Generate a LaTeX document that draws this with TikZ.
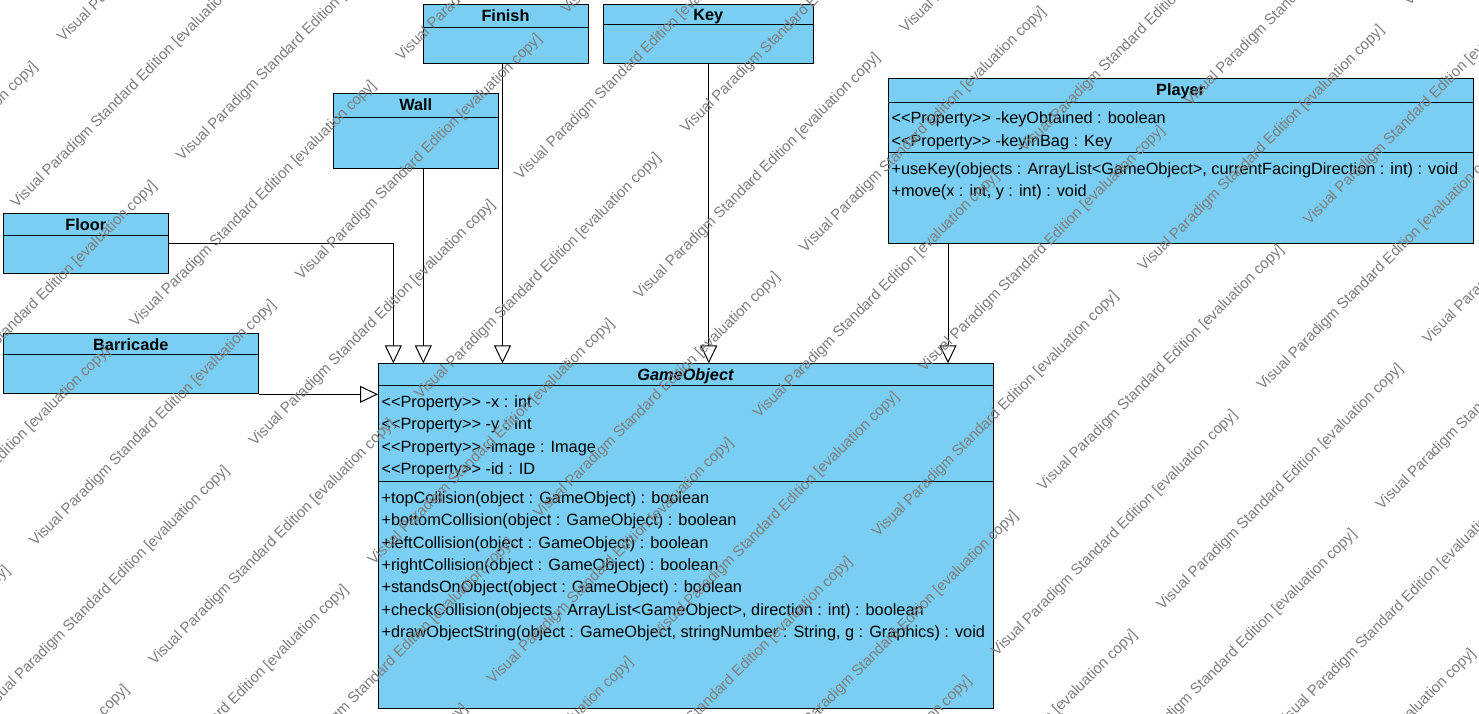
\documentclass[tikz,border=0pt]{standalone}
\usepackage{fontspec}
\setmainfont{Liberation Sans}
\usetikzlibrary{arrows.meta, calc}

\definecolor{classblue}{RGB}{122,206,244}
\definecolor{markgray}{RGB}{125,125,125}

% stereotype brackets, kept from turning into guillemets
\newcommand{\stopen}{<\kern0pt<}
\newcommand{\stclose}{>\kern0pt>}

\begin{document}
\begin{tikzpicture}[x=1pt, y=-1pt, line width=1pt,
    classbox/.style={draw=black, fill=classblue, anchor=north west, inner sep=0pt},
    classtitle/.style={font=\fontsize{16.3}{18}\selectfont\bfseries, anchor=base, inner sep=0pt},
    memberline/.style={font=\fontsize{16.3}{18}\selectfont, anchor=base west, inner sep=0pt},
    inherit/.style={-{Triangle[open, length=18pt, width=17pt]}, black},
    watermark/.style={font=\fontsize{15}{15}\selectfont, text=markgray, rotate=45,
        anchor=base west, inner sep=0pt}]

    % --- 1. Frame ---
    \useasboundingbox (0,0) rectangle (1479,714);

    % --- 2. Class boxes ---
    \node[classbox, minimum width=164.4pt, minimum height=58.7pt] (finish) at (423.3,4) {};
    \node[classbox, minimum width=210pt, minimum height=58.7pt] (key) at (603.3,4) {};
    \node[classbox, minimum width=165pt, minimum height=75pt] (wall) at (333.3,93.3) {};
    \node[classbox, minimum width=165pt, minimum height=60pt] (floor) at (3.3,213.3) {};
    \node[classbox, minimum width=255pt, minimum height=60pt] (barricade) at (3.3,333.3) {};
    \node[classbox, minimum width=584.4pt, minimum height=165pt] (player) at (888.4,78.3) {};
    \node[classbox, minimum width=615pt, minimum height=344.3pt] (game) at (378,363.3) {};

    % compartment lines (offset from the top edge)
    \draw ($(finish.north west)+(0,23.3)$) -- ($(finish.north east)+(0,23.3)$);
    \draw ($(key.north west)+(0,20.3)$) -- ($(key.north east)+(0,20.3)$);
    \draw ($(wall.north west)+(0,24)$) -- ($(wall.north east)+(0,24)$);
    \draw ($(floor.north west)+(0,21.7)$) -- ($(floor.north east)+(0,21.7)$);
    \draw ($(barricade.north west)+(0,21)$) -- ($(barricade.north east)+(0,21)$);
    \draw ($(player.north west)+(0,24)$) -- ($(player.north east)+(0,24)$);
    \draw ($(player.north west)+(0,74.4)$) -- ($(player.north east)+(0,74.4)$);
    \draw ($(game.north west)+(0,22.2)$) -- ($(game.north east)+(0,22.2)$);
    \draw ($(game.north west)+(0,118.4)$) -- ($(game.north east)+(0,118.4)$);

    % --- 3. Titles (on the baseline) ---
    \node[classtitle] (finishname) at (505.5,21.2) {Finish};
    \node[classtitle] (keyname) at (708.3,20.7) {Key};
    \node[classtitle] (wallname) at (415.8,110.7) {Wall};
    \node[classtitle] (floorname) at (85.8,230.7) {Floor};
    \node[classtitle] (barricadename) at (130.8,350.7) {Barricade};
    \node[classtitle] (playername) at (1180.6,96) {Player};
    \node[classtitle, font=\fontsize{16.3}{18}\selectfont\bfseries\itshape] (gamename) at (685.5,380.7) {GameObject};

    % --- 4. Members ---
    \node[memberline] (p1) at (891,123.3) {\stopen Property\stclose{} -keyObtained : boolean};
    \node[memberline] (p2) at (891,146.8) {\stopen Property\stclose{} -keyInBag : Key};
    \node[memberline] (p3) at (891,174.3) {+useKey(objects : ArrayList<GameObject>, currentFacingDirection : int) : void};
    \node[memberline] (p4) at (891,196.7) {+move(x : int, y : int) : void};

    \foreach \txt [count=\i from 0] in {{\stopen Property\stclose{} -x : int},
        {\stopen Property\stclose{} -y : int},
        {\stopen Property\stclose{} -image : Image},
        {\stopen Property\stclose{} -id : ID}}
        \node[memberline] (ga\i) at (381,407.3+22.4*\i) {\txt};

    \foreach \txt [count=\i from 0] in {{+topCollision(object : GameObject) : boolean},
        {+bottomCollision(object : GameObject) : boolean},
        {+leftCollision(object : GameObject) : boolean},
        {+rightCollision(object : GameObject) : boolean},
        {+standsOnObject(object : GameObject) : boolean},
        {+checkCollision(objects : ArrayList<GameObject>, direction : int) : boolean},
        {+drawObjectString(object : GameObject, stringNumber : String, g : Graphics) : void}}
        \node[memberline] (gm\i) at (381,503.3+22.4*\i) {\txt};

    % --- 5. Generalisations ---
    \coordinate (toFloor) at (393.3,363.3);
    \coordinate (toWall) at (423.3,363.3);
    \coordinate (toFinish) at (502.5,363.3);
    \coordinate (toPlayer) at (948,363.3);

    \draw[inherit] (floor.east) -| (toFloor);
    \draw[inherit] (wall.south -| toWall) -- (toWall);
    \draw[inherit] (finish.south -| toFinish) -- (toFinish);
    \draw[inherit] (key.south) -- (key.south |- game.north);
    \draw[inherit] (player.south -| toPlayer) -- (toPlayer);
    \draw[inherit] (barricade.south east) -- (barricade.south east -| game.west);

    % --- 6. Evaluation watermark ---
    \begin{scope}
        \clip (0,0) rectangle (1479,714);
        \foreach \k in {-12,...,7}
            \foreach \m in {-3,...,2} {
                \pgfmathsetmacro{\rn}{1001+84.2*\k}
                \pgfmathsetmacro{\rt}{240+376*\m+150*mod(\k+12,2)}
                \node[watermark] (wm\k\m) at ({(\rn+\rt)/sqrt(2)},{(\rn-\rt)/sqrt(2)})
                    {Visual Paradigm Standard Edition [evaluation copy]};
            }
    \end{scope}

\end{tikzpicture}
\end{document}
